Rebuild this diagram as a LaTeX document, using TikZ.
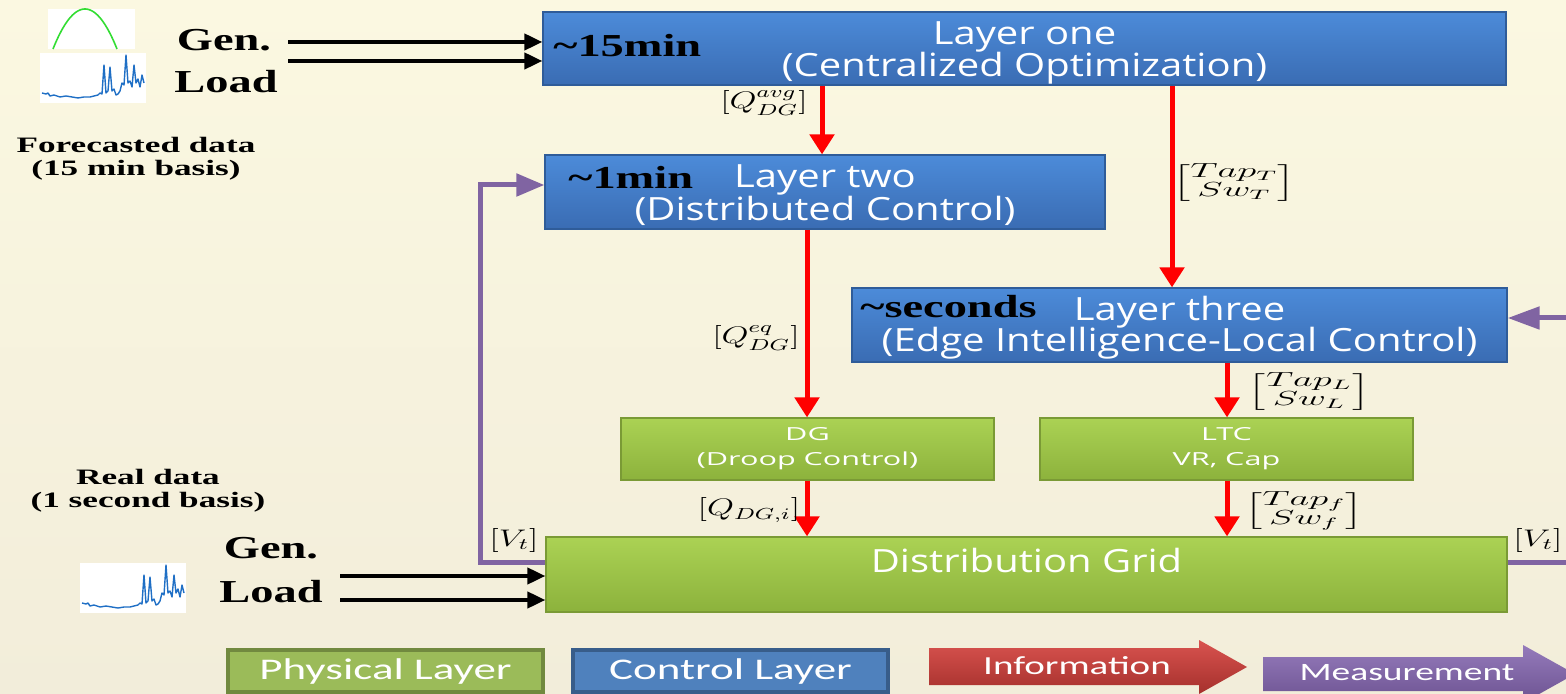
\documentclass[tikz,border=0pt]{standalone}
\usepackage{fontspec}
\usepackage{amsmath}
\usepackage{graphicx}
\usetikzlibrary{arrows.meta,calc}
\setmainfont{Liberation Serif}
\newfontfamily\boxfont[FakeStretch=1.25]{Open Sans}
\newfontfamily\smallboxfont[FakeStretch=1.7]{Open Sans}
\newfontfamily\timefont[FakeStretch=1.45]{Liberation Serif}
\newfontfamily\notefont[FakeStretch=1.6]{Liberation Serif}
\newfontfamily\legendfont[FakeStretch=1.5]{Carlito}

\definecolor{bgTop}{HTML}{FBF8E1}
\definecolor{bgBot}{HTML}{F2EDDA}
\definecolor{ctrlTop}{HTML}{4C8BD9}
\definecolor{ctrlBot}{HTML}{3A6CB3}
\definecolor{ctrlEdge}{HTML}{2F5C99}
\definecolor{physTop}{HTML}{ABD254}
\definecolor{physBot}{HTML}{8CB23C}
\definecolor{physEdge}{HTML}{7A9A35}
\definecolor{infoRed}{HTML}{FF0000}
\definecolor{measPurple}{HTML}{8064A2}
\definecolor{legGreen}{HTML}{9BBB59}
\definecolor{legGreenEdge}{HTML}{71893F}
\definecolor{legBlue}{HTML}{4F81BD}
\definecolor{legBlueEdge}{HTML}{385D8A}
\definecolor{arrRedTop}{HTML}{D9534F}
\definecolor{arrRedBot}{HTML}{A5302C}
\definecolor{arrPurTop}{HTML}{957BBB}
\definecolor{arrPurBot}{HTML}{6C5291}
\definecolor{loadBlue}{HTML}{1F6FC5}
\definecolor{genGreen}{HTML}{33DD33}

\newcommand\sigq[1]{\scalebox{1.45}[1]{$#1$}}
\newcommand\sigm[2]{\raisebox{0pt}[13pt][8pt]{\scalebox{1.6}[0.85]{$\left[\begin{matrix}#1\\#2\end{matrix}\right]$}}}

\begin{document}
\begin{tikzpicture}[x=0.5pt,y=-0.5pt,
  ctrlbox/.style={draw=ctrlEdge, line width=0.6pt, top color=ctrlTop, bottom color=ctrlBot, inner sep=0pt},
  physbox/.style={draw=physEdge, line width=0.6pt, top color=physTop, bottom color=physBot, inner sep=0pt},
  boxtext/.style={text=white, align=center, inner sep=0pt, font=\boxfont\fontsize{16}{16}\selectfont},
  smalltext/.style={text=white, align=center, inner sep=0pt, font=\smallboxfont\fontsize{9}{12.5}\selectfont},
  info/.style={draw=infoRed, line width=2.5pt, -{Triangle[width=12pt,length=10pt]}},
  meas/.style={draw=measPurple, line width=2.5pt, line join=miter},
  feed/.style={draw=black, line width=2pt, -{Triangle[width=8pt,length=9pt]}},
  timelabel/.style={font=\timefont\bfseries\fontsize{16}{16}\selectfont, inner sep=0pt},
  sidenote/.style={font=\notefont\bfseries\fontsize{11}{11.5}\selectfont, align=center, inner sep=0pt},
  sig/.style={inner sep=0pt, font=\fontsize{12}{14}\selectfont},
  sigmat/.style={inner sep=0pt, font=\fontsize{12}{10.5}\selectfont},
  legtext/.style={text=white, inner sep=0pt, font=\legendfont\fontsize{15}{15}\selectfont},
  loadchart/.pic={
    \fill[white] (0,0) rectangle (106,50);
    \draw[loadBlue, line width=0.7pt, line join=round] plot coordinates {
      (2,40) (6,41) (8,40) (10,43) (14,42) (20,44) (26,43) (32,44) (38,45) (44,44)
      (50,44) (54,43) (58,42) (60,40) (62,41) (64,12) (66,40) (68,38) (70,14)
      (72,38) (74,36) (76,42) (78,41) (80,38) (82,30) (84,32) (86,2) (88,30)
      (90,28) (92,34) (94,12) (96,30) (98,26) (100,34) (102,22) (104,30)};
  }]

\useasboundingbox (0,0) rectangle (1566,694);
\clip (0,0) rectangle (1566,694);
\shade[top color=bgTop, bottom color=bgBot] (0,0) rectangle (1566,694);

% input profiles
\fill[white] (48,9) rectangle (135,49);
\draw[genGreen, line width=0.8pt] plot[domain=53:117, samples=40, smooth] (\x,{49-40*(1-((\x-85)/32)^2)});
\pic at (40,53) {loadchart};
\pic at (80,563) {loadchart};

% control and physical layers
\node[ctrlbox, minimum width=481.5pt, minimum height=36.5pt] (one) at (1024.5,48.5) {};
\node[ctrlbox, minimum width=280pt, minimum height=37pt] (two) at (825,192) {};
\node[ctrlbox, minimum width=327.5pt, minimum height=37pt] (three) at (1179.5,325) {};
\node[physbox, minimum width=186.5pt, minimum height=31pt] (dg) at (807.5,449) {};
\node[physbox, minimum width=186.5pt, minimum height=31pt] (ltc) at (1226.5,449) {};
\node[physbox, minimum width=480.5pt, minimum height=37.5pt] (grid) at (1026.5,574.5) {};

\node[boxtext] (onetext) at ([yshift=-2pt]one.center) {Layer one\\(Centralized Optimization)};
\node[boxtext] (twotitle) at (825,180) {Layer two};
\node[boxtext] (twosub) at (825,211) {(Distributed Control)};
\node[boxtext] (threetitle) at (1179.5,312) {Layer three};
\node[boxtext] (threesub) at (1179.5,343) {(Edge Intelligence-Local Control)};
\node[smalltext] (dgtext) at (dg.center) {DG\\(Droop Control)};
\node[smalltext] (ltctext) at (ltc.center) {LTC\\VR, Cap};
\node[boxtext] (gridtext) at ([yshift=7pt]grid.center) {Distribution Grid};

% time scales
\node[timelabel, anchor=west] (t15) at (553,46) {\textasciitilde 15min};
\node[timelabel, anchor=west] (t1) at (568,177) {\textasciitilde 1min};
\node[timelabel, anchor=west] (tsec) at (860,307) {\textasciitilde seconds};

% data sources
\node[timelabel] (gentop) at (224,40) {Gen.};
\node[timelabel] (loadtop) at (226,82) {Load};
\node[timelabel] (genbot) at (271,548) {Gen.};
\node[timelabel] (loadbot) at (271,592) {Load};
\node[sidenote] (fcast) at (136,159) {Forecasted data\\(15 min basis)};
\node[sidenote] (real) at (148,491) {Real data\\(1 second basis)};

\coordinate (g1) at (288,42);
\coordinate (l1) at (288,61);
\coordinate (g2) at (340,576);
\coordinate (l2) at (340,600);
\draw[feed] (g1) -- (one.west |- g1);
\draw[feed] (l1) -- (one.west |- l1);
\draw[feed] (g2) -- (grid.west |- g2);
\draw[feed] (l2) -- (grid.west |- l2);

% information flow
\coordinate (c12) at (822,0);
\coordinate (c13) at (1172,0);
\coordinate (cdg) at (807,0);
\coordinate (c3l) at (1227,0);
\draw[info] (one.south -| c12) -- (two.north -| c12);
\draw[info] (one.south -| c13) -- (three.north -| c13);
\draw[info] (two.south -| cdg) -- (dg.north -| cdg);
\draw[info] (dg.south -| cdg) -- (grid.north -| cdg);
\draw[info] (three.south -| c3l) -- (ltc.north -| c3l);
\draw[info] (ltc.south -| c3l) -- (grid.north -| c3l);

\node[sig] (qavg) at (764,103) {\sigq{[Q^{avg}_{DG}]}};
\node[sigmat] (tapt) at (1234,183) {\sigm{Tap_T}{Sw_T}};
\node[sig] (qeq) at (756,338) {\sigq{[Q^{eq}_{DG}]}};
\node[sig] (qdgi) at (749,510) {\sigq{[Q_{DG,i}]}};
\node[sigmat] (tapl) at (1309,392) {\sigm{Tap_L}{Sw_L}};
\node[sigmat] (tapf) at (1304,511) {\sigm{Tap_f}{Sw_f}};

% measurement feedback
\coordinate (vl1) at (480,562);
\coordinate (vl2) at (480,185);
\coordinate (vr1) at (1600,562);
\coordinate (vr2) at (1600,318);
\draw[meas, -{Triangle[width=11pt,length=14pt]}] (grid.west |- vl1) -- (vl1) -- (vl2) -- (two.west |- vl2);
\draw[meas, -{Triangle[width=11pt,length=16pt]}] (grid.east |- vr1) -- (vr1) -- (vr2) -- (three.east |- vr2);
\node[sig] (vtl) at (514,540) {\sigq{[V_t]}};
\node[sig] (vtr) at (1538,540) {\sigq{[V_t]}};

% legend
\node[draw=legGreenEdge, fill=legGreen, line width=2pt, minimum width=157.5pt, minimum height=21pt,
  inner sep=0pt] (lphys) at (385.5,671) {};
\node[legtext] at (lphys) {Physical Layer};
\node[draw=legBlueEdge, fill=legBlue, line width=2pt, minimum width=157.5pt, minimum height=21pt,
  inner sep=0pt] (lctrl) at (730.5,671) {};
\node[legtext] at (lctrl) {Control Layer};
\shade[top color=arrRedTop, bottom color=arrRedBot]
  (929,648) -- (1199,648) -- (1199,640) -- (1247,667) -- (1199,694) -- (1199,685) -- (929,685) -- cycle;
\node[legtext, font=\legendfont\fontsize{13}{13}\selectfont] (linfo) at (1077,666) {Information};
\shade[top color=arrPurTop, bottom color=arrPurBot]
  (1263,657) -- (1523,657) -- (1523,645) -- (1575,674) -- (1523,703) -- (1523,691) -- (1263,691) -- cycle;
\node[legtext, font=\legendfont\fontsize{12.5}{12.5}\selectfont] (lmeas) at (1407,673) {Measurement};
\end{tikzpicture}
\end{document}
